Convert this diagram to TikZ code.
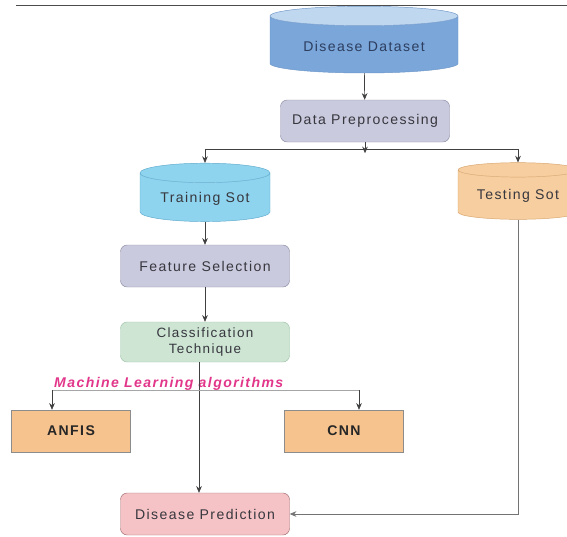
\documentclass[tikz,border=0pt]{standalone}
\usepackage{fontspec}
\setmainfont{Liberation Sans}
\newfontfamily\boxfont[LetterSpace=10]{Liberation Sans}
\usepackage{xcolor}
\usetikzlibrary{shapes.geometric,arrows.meta,positioning,calc}

\definecolor{dsbody}{RGB}{122,166,218}
\definecolor{dstop}{RGB}{192,215,240}
\definecolor{dsline}{RGB}{110,150,200}
\definecolor{procfill}{RGB}{202,202,223}
\definecolor{procline}{RGB}{140,140,165}
\definecolor{trainfill}{RGB}{143,212,238}
\definecolor{trainline}{RGB}{95,170,205}
\definecolor{testfill}{RGB}{246,206,160}
\definecolor{testline}{RGB}{215,165,110}
\definecolor{clsfill}{RGB}{206,229,212}
\definecolor{clsline}{RGB}{160,195,170}
\definecolor{algofill}{RGB}{246,195,142}
\definecolor{predfill}{RGB}{245,195,198}
\definecolor{predline}{RGB}{160,110,112}
\definecolor{mlpink}{RGB}{226,54,138}
\definecolor{txtgray}{RGB}{55,55,62}
\definecolor{dstext}{RGB}{45,62,95}

\begin{document}
\begin{tikzpicture}[
  x=0.3mm, y=-0.3mm,
  proc/.style  = {rectangle, rounded corners=2mm, draw=procline, fill=procfill,
                  minimum width=50.7mm, minimum height=12.6mm, text=txtgray,
                  font=\boxfont\fontsize{12}{14}\selectfont, align=center},
  db/.style    = {cylinder, shape border rotate=90, draw, aspect=0.2,
                  cylinder uses custom fill, text=txtgray,
                  font=\boxfont\fontsize{12}{14}\selectfont},
  algo/.style  = {rectangle, draw=black!45, fill=algofill, text=black!85,
                  minimum width=35.6mm, minimum height=12.6mm,
                  font=\boxfont\bfseries\fontsize{12}{14}\selectfont},
  arr/.style   = {->, >={Stealth[length=2mm,width=1.7mm]}, line width=0.6pt, black!75}
]
\useasboundingbox (0,0) rectangle (567,536);
\clip (0,0) rectangle (567,536);

%% Top rule
\draw[black!70, line width=0.8pt] (16,5) -- (567,5);

%% Data source
\node[db, draw=dsline, cylinder body fill=dsbody, cylinder end fill=dstop,
      minimum width=56.4mm, minimum height=20mm, aspect=0.15, text=dstext]
      (data) at (364,46) {Disease Dataset};
\node[proc] (prep) at (365,121) {Data Preprocessing};

%% Train / test split
\node[db, draw=trainline, cylinder body fill=trainfill, cylinder end fill=trainfill,
      minimum width=39mm, minimum height=17.5mm, aspect=0.2]
      (train) at (205,199) {Training Sot};
\node[db, draw=testline, cylinder body fill=testfill, cylinder end fill=testfill,
      minimum width=36mm, minimum height=17mm, aspect=0.16]
      (test) at (518,196) {Testing Sot};

%% Training branch
\node[proc] (feat) at (205,266) {Feature Selection};
\node[proc, fill=clsfill, draw=clsline, minimum height=12mm,
      font=\boxfont\fontsize{11.5}{13}\selectfont] (cls) at (205,342) {Classification\\Technique};

%% Algorithms
\node[algo] (anfis) at (71,431) {ANFIS};
\node[algo] (cnn)   at (344,431) {CNN};
\coordinate (mlL) at (52,390);
\coordinate (mlR) at (359,390);
\node[anchor=base west, inner sep=0pt, text=mlpink,
      font=\boxfont\bfseries\itshape\fontsize{12}{14}\selectfont]
      (mltxt) at (54,387) {Machine Learning algorithms};

%% Output
\node[proc, fill=predfill, draw=predline] (pred) at (205,514) {Disease Prediction};

%% Dataset -> preprocessing -> split
\draw[arr] (data) -- (prep);
\coordinate (split) at (365,149);
\draw[arr] (prep.south) -- ++(0,11);
\draw[arr] (split) -| (train.north);
\draw[arr] (split) -| (test.north);

%% Training chain
\draw[arr] (train) -- (feat);
\draw[arr] (feat) -- (cls);
\draw[arr, line width=0.5pt] ([xshift=-1.8mm]cls.south) -- ([xshift=-1.8mm]pred.north);

%% Algorithm branches
\draw[black!35, line width=0.6pt] (mlL) -- (mlR);
\draw[arr] (mlL) -- (mlL |- anfis.north);
\draw[arr] (mlR) -- (mlR |- cnn.north);

%% Testing -> prediction
\draw[arr, black!55] (test.south) |- (pred.east);
\end{tikzpicture}
\end{document}
